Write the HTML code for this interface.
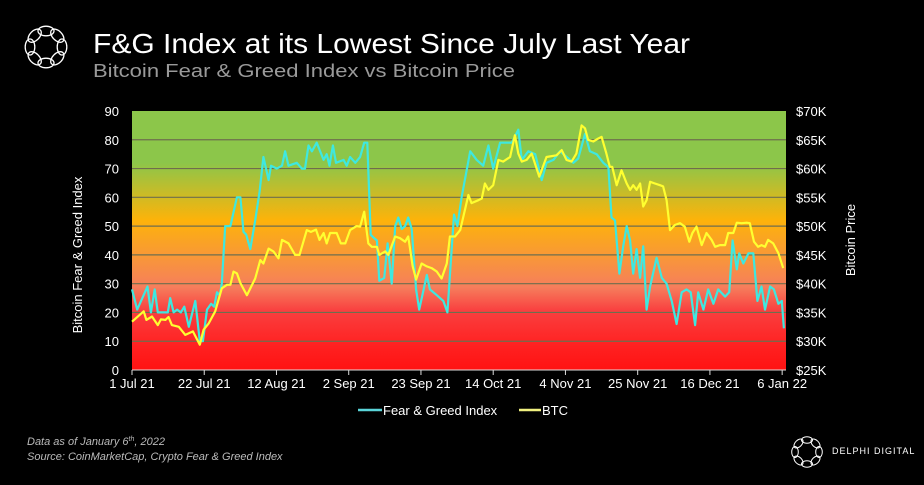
<!DOCTYPE html>
<html><head><meta charset="utf-8"><style>
html,body{margin:0;padding:0;background:#000;}
svg{display:block;font-family:"Liberation Sans",sans-serif;}
</style></head><body>
<svg id="chart" width="924" height="485" viewBox="0 0 924 485">
<defs>
<linearGradient id="bg" x1="0" y1="0" x2="0" y2="1">
<stop offset="0" stop-color="#8cc64a"/>
<stop offset="0.2" stop-color="#8cc64a"/>
<stop offset="0.42" stop-color="#fdb30a"/>
<stop offset="0.57" stop-color="#f8963a"/>
<stop offset="0.68" stop-color="#f67e5c"/>
<stop offset="0.77" stop-color="#f94040"/>
<stop offset="0.9" stop-color="#ff2222"/>
<stop offset="1" stop-color="#ff1212"/>
</linearGradient>
</defs>
<rect width="924" height="485" fill="#000"/>
<g id="logo" fill="none" stroke="#fff" stroke-width="1.3"></g>
<text x="93" y="53" fill="#fff" font-size="28" textLength="597" lengthAdjust="spacingAndGlyphs">F&amp;G Index at its Lowest Since July Last Year</text>
<text x="93" y="77" fill="#9a9a9a" font-size="18" textLength="422" lengthAdjust="spacingAndGlyphs">Bitcoin Fear &amp; Greed Index vs Bitcoin Price</text>
<rect x="132" y="111" width="654" height="259" fill="url(#bg)"/>
<g id="grid"></g>
<g id="ticks"></g>
<g id="series"></g>
<text transform="translate(82,255) rotate(-90)" text-anchor="middle" fill="#fff" font-size="13">Bitcoin Fear &amp; Greed Index</text>
<text transform="translate(855,240) rotate(-90)" text-anchor="middle" fill="#fff" font-size="13">Bitcoin Price</text>
<g>
<line x1="358" y1="410" x2="382" y2="410" stroke="#5ad4d8" stroke-width="2.5"/>
<text x="383" y="415" fill="#fff" font-size="13">Fear &amp; Greed Index</text>
<line x1="519" y1="410" x2="541" y2="410" stroke="#f0f080" stroke-width="2.5"/>
<text x="542" y="415" fill="#fff" font-size="13">BTC</text>
</g>
<text x="27" y="445" fill="#bbb" font-size="11" font-style="italic">Data as of January 6<tspan font-size="7" dy="-4">th</tspan><tspan dy="4">, 2022</tspan></text>
<text x="27" y="460" fill="#bbb" font-size="11" font-style="italic">Source: CoinMarketCap, Crypto Fear &amp; Greed Index</text>
<g id="logo2" fill="none" stroke="#fff" stroke-width="1"></g>
<text x="832" y="454" fill="#fff" font-size="9" letter-spacing="1">DELPHI DIGITAL</text>
</svg>
<script>
const xTickLabels = ["1 Jul 21","22 Jul 21","12 Aug 21","2 Sep 21","23 Sep 21","14 Oct 21","4 Nov 21","25 Nov 21","16 Dec 21","6 Jan 22"];
const xTickDays = [0,21,42,63,84,105,126,147,168,189];
const yLeftTicks = [0,10,20,30,40,50,60,70,80,90];
const yRightTicks = [25,30,35,40,45,50,55,60,65,70];
const fgDays = [0,1.5,4.5,5.5,6.6,7.5,10.4,11.1,12.1,13.1,14.2,15.2,16.5,18.4,19.7,20.6,21.8,23,23.9,24.7,25.5,26.1,27.1,28.6,30.5,31.5,32.4,33.2,34.4,35.8,37.1,38.2,39.7,40.4,42.1,43.6,44.5,45.5,47.9,49.4,50.3,51.3,52.3,53.7,55.7,56.6,57.4,58.4,59.3,61.5,62.4,63.4,64.9,66.3,67.5,68.4,69.4,70.2,71.2,71.9,73.3,74.3,75.5,76.5,77.4,78.4,79.4,80.3,81.3,82.6,83.5,85.7,86.6,88.6,90.5,91.7,93.6,94.6,95.8,98.3,100.2,102.1,103.6,105,107,108.4,110.4,112.3,113.3,115.2,117.2,119.1,120.5,122.5,124.4,126.4,128.3,129.7,131.7,133.1,135.1,137,138.5,139.4,140.4,141.7,142.8,143.8,144.8,145.7,146.7,147.7,148.6,149.6,150.6,152.5,154,155.4,156.9,158.3,159.8,161.2,162.4,163.7,164.6,166.1,167.5,169,170.4,172.4,173.6,174.6,175.8,176.5,177.7,179.2,180.6,181.8,183,184,185.5,186.6,187.9,188.9,189.5];
const fgValues = [28,21,29,20,28,20,20,25,20,21,20,22,15,24,10,10,21,23,22,27,26,30,50,50,60,60,48,47,42,52,62,74,66,71,70,71,76,71,72,70,70,78,76,79,73,75,71,78,72,73,71,74,72,74,79,79,47,46,45,31,32,44,30,50,53,49,50,53,49,28,21,33,28,26,24,20,54,50,60,76,73,71,78,70,79,79,79,83.5,73,76,75,66,72,73,76,74,72,73.5,82,76,75,72,70.5,53,52,33.5,43,50,45,33.5,42,32,43,21,29,39,32,30,24,16,27,28,27,15.6,27,21,28,23,28,25.5,27,45,35,40.5,37,40.5,40.5,24,29,21,29,28,23,24,14.5];
const btcDays = [0,3.4,4.2,5.8,7.5,8.4,9.7,10.6,11.6,13.6,15.5,17.7,19.7,20.8,22.3,24.2,26.1,27.6,28.6,29.5,30.5,31.5,33.4,35.8,37.3,38.2,39.7,41.1,42.6,43.6,45.5,47.4,48.7,50.8,52,53.5,54.5,55.7,56.6,57.6,59.5,60.7,62,63.4,65.3,66.3,67.5,68.7,69.7,71.2,71.9,73.6,74.5,76.5,77.9,79.4,80.3,81.6,82.6,84.2,85.7,87.1,88.6,90,91.5,92.4,93.9,95.4,97.8,98.7,100.7,101.7,102.6,103.6,105,106.5,107.9,109.9,111.3,112.3,113.3,114.7,116.2,118.4,120.5,123.4,124.9,126.3,127.8,129.2,130.7,131.7,132.6,134.1,135.5,136.5,137.9,138.9,139.6,140.9,142.3,143.8,144.8,145.7,146.7,147.7,148.6,149.6,150.6,152,153.5,154.4,155.4,156.4,157.8,159.3,160.7,162,162.9,164.1,165.6,167,168.5,169.5,170.9,172.4,173.3,174.8,175.8,177.2,178.7,179.6,180.8,182,183,184,184.9,186.4,187.9,189.3];
const btcPrices = [33.4,35.2,33.7,34.3,32.8,33.8,33.7,34.2,32.8,32.5,31.1,31.7,29.4,32,33.1,35.2,39.2,39.8,39.8,42.1,41.8,40.1,38,40.9,44.1,43.5,46.1,45.6,44.4,47.6,47,45,45,49.3,49,49.4,47.6,48.8,47,48.8,48.8,47,47,49.3,50,49.9,52.5,47,46.4,46.4,45,45.6,45,48.2,47.9,47.3,48.2,43,40.7,43.5,43,42.7,42.1,40.9,43.5,48.2,48.2,49.3,55.4,54,54.5,54.8,57.4,56.3,57.1,61.5,61.2,62,65.8,62.6,61.2,61.5,62.6,58.6,62,62.3,63.2,61.5,61.2,62.6,67.5,67,65,64.7,65.2,65.5,62.6,60.3,60.3,57.1,59.7,57.4,56.3,57.1,56.3,57.4,53.4,54.5,57.7,57.4,57.1,56.9,54.5,49.3,50.2,50.5,49.9,47.3,48.8,49.9,46.7,48.8,47.6,46.4,46.7,46.7,48.8,48.8,50.6,50.5,50.6,50.5,47.3,46.4,46.7,46.4,47.6,47,45.3,42.7];

const NS = "http://www.w3.org/2000/svg";
const X0 = 132, X1 = 786, Y0 = 370, Y1 = 111;
const xScale = d => X0 + d * 3.44;
const yLeft = v => Y0 - (v / 90) * (Y0 - Y1);
const yRight = p => Y0 - ((p - 25) / 45) * (Y0 - Y1);
function mk(tag, attrs, parent) { const e = document.createElementNS(NS, tag); for (const k in attrs) e.setAttribute(k, attrs[k]); parent.appendChild(e); return e; }

const grid = document.getElementById('grid');
yLeftTicks.forEach((v, i) => {
  const y = yLeft(v);
  if (v > 0 && v < 90) {
    const l = mk('line', {x1: X0, x2: X1, y1: y, y2: y, stroke: '#6e6e4e', 'stroke-width': 1.2}, grid);
    
    
  }
  const t = mk('text', {x: 119, y: y + 5, 'text-anchor': 'end', fill: '#fff', 'font-size': 13}, grid);
  t.textContent = v;
  
  
  const r = mk('text', {x: 796, y: y + 5, fill: '#fff', 'font-size': 13}, grid);
  r.textContent = '$' + yRightTicks[i] + 'K';
  
  
});
const ticks = document.getElementById('ticks');
const ax = mk('line', {x1: X0, x2: X1, y1: Y0, y2: Y0, stroke: '#ddd', 'stroke-width': 1}, ticks);


xTickDays.forEach((d, i) => {
  const x = xScale(d);
  const tk = mk('line', {x1: x, x2: x, y1: Y0, y2: Y0 + 5, stroke: '#ddd'}, ticks);
  
  
  const t = mk('text', {x: x, y: 388, 'text-anchor': 'middle', fill: '#fff', 'font-size': 13}, ticks);
  t.textContent = xTickLabels[i];
  
  
});
const series = document.getElementById('series');
const fgPts = fgDays.map((d, i) => xScale(d).toFixed(1) + ',' + yLeft(fgValues[i]).toFixed(1)).join(' ');
const btcPts = btcDays.map((d, i) => xScale(d).toFixed(1) + ',' + yRight(btcPrices[i]).toFixed(1)).join(' ');
const fgLine = mk('polyline', {points: fgPts, fill: 'none', stroke: '#3ee8e0', 'stroke-width': 2.2, 'stroke-linejoin': 'round'}, series);


const btcLine = mk('polyline', {points: btcPts, fill: 'none', stroke: '#ffff30', 'stroke-width': 2.2, 'stroke-linejoin': 'round'}, series);



function drawLogo(g, cx, cy, R, r) {
  for (let k = 0; k < 8; k++) {
    const a = k * Math.PI / 4;
    const ex = cx + R * Math.cos(a), ey = cy + R * Math.sin(a);
    mk('ellipse', {cx: ex, cy: ey, rx: r, ry: r * 0.6, transform: 'rotate(' + (k * 45 + 90) + ' ' + ex + ' ' + ey + ')'}, g);
  }
}
drawLogo(document.getElementById('logo'), 46, 47, 16, 8);
drawLogo(document.getElementById('logo2'), 807, 452, 12, 5.5);
</script>
</body></html>
